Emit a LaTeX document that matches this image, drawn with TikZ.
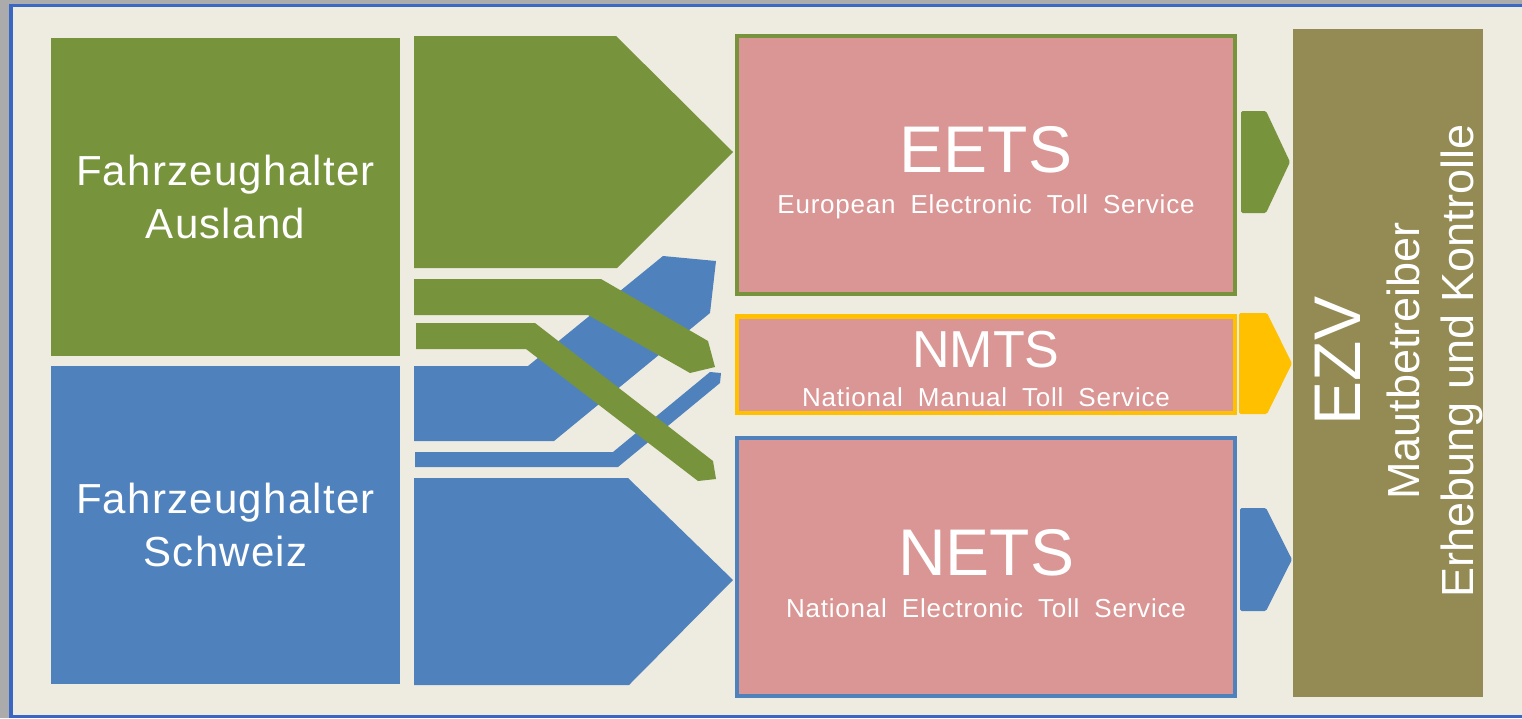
\documentclass[tikz,border=0pt]{standalone}
\usepackage{fontspec}
\setmainfont{Liberation Sans}
\newfontfamily\spaziata[LetterSpace=3]{Liberation Sans}
\newfontfamily\larga[LetterSpace=3]{Liberation Sans}
\definecolor{sfondo}{HTML}{EEECE1}
\definecolor{cornice}{HTML}{3A66C4}
\definecolor{grigio}{HTML}{ABABAB}
\definecolor{verde}{HTML}{77933C}
\definecolor{blu}{HTML}{4F81BD}
\definecolor{rosa}{HTML}{D99694}
\definecolor{giallo}{HTML}{FFC000}
\definecolor{oliva}{HTML}{948A54}
\begin{document}
\begin{tikzpicture}[x=1pt,y=-1pt,
    halter/.style={fill=#1, text=white, minimum width=349pt, minimum height=318pt, inner sep=0pt, align=center, font={\larga\fontsize{42}{53}\selectfont}},
    dienst/.style={fill=rosa, draw=#1, line width=4.5pt, minimum width=498pt, inner sep=0pt},
    titel/.style={text=white, anchor=base, font={\fontsize{#1}{#1}\selectfont}},
    untertitel/.style={text=white, anchor=base, inner sep=0pt, font={\spaziata\fontsize{26}{26}\selectfont\spaceskip=15pt\relax}},
    spitze/.style={fill=#1, rounded corners=1.5pt}]
    \useasboundingbox (0,0) rectangle (1522,718);
    %sfondo e cornice
    \fill[grigio] (0,0) rectangle (1522,718);
    \fill[sfondo] (11,5.5) rectangle (1522,716.5);
    \draw[cornice, line width=3.5pt] (1522,5.5) -- (11,5.5) -- (11,716.5) -- (1522,716.5);
    %fahrzeughalter
    \node[halter=verde] (ausland) at (225.5,196.5) {Fahrzeughalter\\Ausland};
    \node[halter=blu] (schweiz) at (225.5,525) {Fahrzeughalter\\Schweiz};
    %frecce blu
    \fill[blu] (414,366) -- (528,366) -- (663,256) -- (716,261) -- (710,313) -- (554,441) -- (414,441) -- cycle;
    \fill[blu] (415,452) -- (613,452) -- (710,372) -- (721,373) -- (720,383) -- (618,467) -- (415,467) -- cycle;
    \fill[blu] (414,478) -- (628,478) -- (733,580) -- (629,685) -- (414,685) -- cycle;
    %frecce verdi
    \fill[verde] (414,36) -- (616,36) -- (733,152) -- (617,268) -- (414,268) -- cycle;
    \fill[verde] (414,279) -- (601,279) -- (708,341) -- (715,367) -- (690,373) -- (588,315) -- (414,315) -- cycle;
    \fill[verde] (416,323) -- (535,323) -- (713,461) -- (716,479) -- (698,481) -- (526,349) -- (416,349) -- cycle;
    %servizi
    \node[dienst=verde, minimum height=258pt] (eets) at (986,165) {};
    \node[dienst=giallo, minimum height=96.5pt] (nmts) at (986,364.75) {};
    \node[dienst=blu, minimum height=258pt] (nets) at (986,567) {};
    \node[titel=66] (eetsT) at (986,172) {EETS};
    \node[untertitel] (eetsU) at (986,213) {European Electronic Toll Service};
    \node[titel=52] (nmtsT) at (986,367.5) {NMTS};
    \node[untertitel] (nmtsU) at (986,406.7) {National Manual Toll Service};
    \node[titel=66] (netsT) at (986,575) {NETS};
    \node[untertitel] (netsU) at (986,617) {National Electronic Toll Service};
    %punte
    \fill[spitze=verde] (1241,111) -- (1266,111) -- (1290,162) -- (1266,213) -- (1241,213) -- cycle;
    \fill[spitze=giallo] (1239,313) -- (1267,313) -- (1292,363.5) -- (1267,414) -- (1239,414) -- cycle;
    \fill[spitze=blu] (1240,508) -- (1266,508) -- (1292,559.5) -- (1266,611) -- (1240,611) -- cycle;
    %ezv
    \node[fill=oliva, minimum width=190pt, minimum height=668pt, inner sep=0pt] (ezv) at (1388,363) {};
    \node[titel=66, rotate=90] (ezvT) at (1360,361) {EZV};
    \node[titel=45, rotate=90] (ezvA) at (1419,361) {Mautbetreiber};
    \node[titel=45, rotate=90] (ezvB) at (1473,361) {Erhebung und Kontrolle};
\end{tikzpicture}
\end{document}
